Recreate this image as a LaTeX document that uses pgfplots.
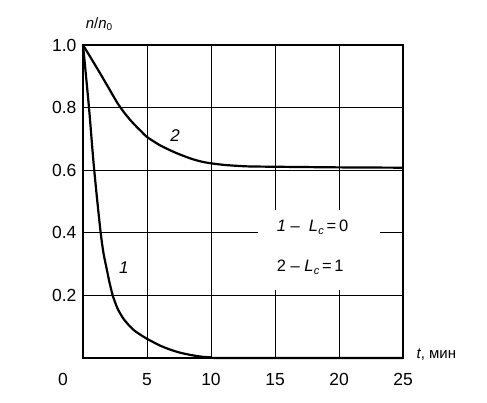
\documentclass[border=0pt]{standalone}
\usepackage{pgfplots}
\pgfplotsset{compat=1.18}
\usepackage{fontspec}
\setmainfont{Liberation Sans}
\begin{document}
\begin{tikzpicture}[x=1pt,y=1pt]
\useasboundingbox (-83,-45) rectangle (404,358);
\begin{axis}[
  at={(0,0)}, anchor=south west,
  scale only axis, width=320pt, height=313pt,
  xmin=0, xmax=25, ymin=0, ymax=1,
  xtick={5,10,15,20,25}, xticklabels={5,10,15,20,25},
  ytick={0.2,0.4,0.6,0.8,1.0}, yticklabels={0.2,0.4,0.6,0.8,1.0},
  yticklabel style={xshift=-3pt},
  xticklabel style={anchor=north, text height=12pt, text depth=0pt, inner sep=0pt, yshift=-15pt},
  tick label style={font=\fontsize{17.5}{20}\selectfont},
  major tick length=0pt,
  grid=major, grid style={black, line width=1pt},
  axis line style={black, line width=1.2pt},
  clip=false,
]
\fill[white] (axis cs:13.7,0.217) rectangle (axis cs:23.2,0.473);
\addplot[black, line width=2.2pt, smooth, tension=0.4] coordinates {
(0,1.0) (0.25,0.895) (0.5,0.785) (0.81,0.63) (1.07,0.52) (1.38,0.40) (1.6,0.335) (1.85,0.285) (2.05,0.245) (2.32,0.20) (2.7,0.158) (3.15,0.126) (3.6,0.104) (4.0,0.088) (4.5,0.074) (4.97,0.062) (6.0,0.04) (6.8,0.027) (7.58,0.017) (8.5,0.009) (9.3,0.004) (10,0.002) (11,0.0) (25,0)
};
\addplot[black, line width=2.2pt, smooth, tension=0.4] coordinates {
(0,1.0) (0.55,0.963) (1.33,0.91) (2.1,0.856) (2.7,0.814) (3.2,0.785) (3.7,0.760) (4.2,0.738) (4.6,0.722) (4.97,0.707) (6,0.680) (7,0.660) (7.58,0.650) (8.5,0.636) (9.3,0.627) (10,0.622) (11,0.617) (12,0.614) (13,0.612) (15,0.611) (20,0.609) (25,0.608)
};
\node[font=\fontsize{17}{19}\selectfont] at (axis cs:7.19,0.712) {\itshape 2};
\node[font=\fontsize{17}{19}\selectfont] at (axis cs:3.2,0.288) {\itshape 1};
\node[anchor=west, inner sep=0pt, font=\fontsize{16.5}{19}\selectfont] at (axis cs:15.13,0.417) {\itshape 1\upshape\ --\ \ \itshape L\kern0.3pt\raisebox{-2.5pt}{\fontsize{11}{12}\selectfont c}\upshape\,=\,0};
\node[anchor=west, inner sep=0pt, font=\fontsize{16.5}{19}\selectfont] at (axis cs:15.13,0.289) {2 -- \itshape L\kern0.3pt\raisebox{-2.5pt}{\fontsize{11}{12}\selectfont c}\upshape\,=\,1};
\node[anchor=north, text height=12pt, text depth=0pt, inner sep=0pt, font=\fontsize{17.5}{20}\selectfont] at (axis cs:-1.56,-0.048) {0};
\node[anchor=west, inner sep=0pt, font=\fontsize{15}{18}\selectfont] at (axis cs:26.05,0.01) {\itshape t\upshape, мин};
\node[anchor=west, inner sep=0pt, font=\fontsize{15}{18}\selectfont] at (axis cs:0.2,1.067) {\itshape n\upshape/\itshape n\upshape\raisebox{-2pt}{\fontsize{10}{12}\selectfont 0}};
\end{axis}
\end{tikzpicture}
\end{document}
